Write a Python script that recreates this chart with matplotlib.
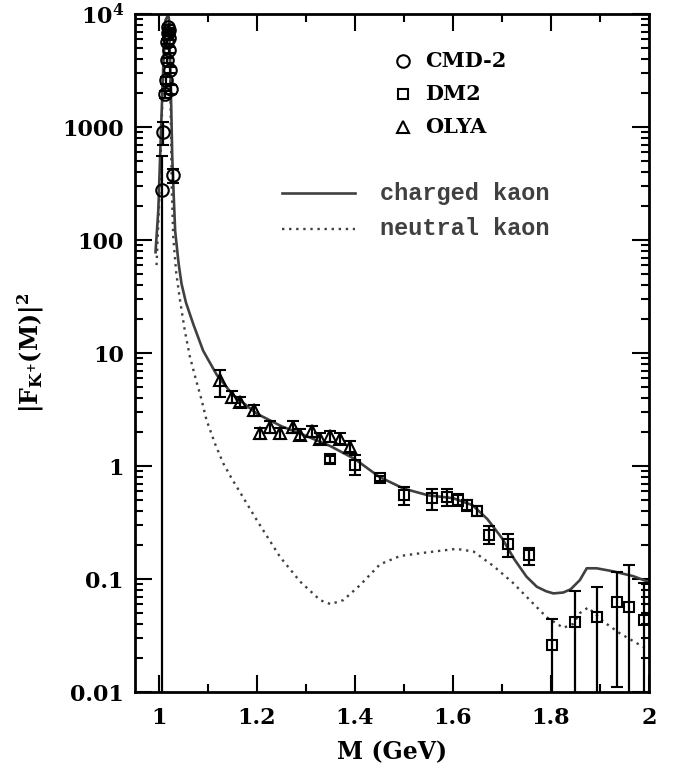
import matplotlib
matplotlib.use("Agg")
import matplotlib.pyplot as plt
import numpy as np
from matplotlib.ticker import FixedLocator, FixedFormatter, NullFormatter, MultipleLocator

# ---------------- data ----------------
# CMD-2 (circles)
cmd_m  = [1.006, 1.009, 1.0125, 1.014, 1.0155, 1.017, 1.018, 1.019, 1.020, 1.0205, 1.021, 1.022, 1.0235, 1.028]
cmd_v  = [277, 910, 1950, 2600, 3900, 5700, 6800, 7700, 7200, 6200, 4800, 3200, 2150, 375]
cmd_lo = [0.003, 690, 1800, 2400, 3700, 5400, 6500, 7400, 6900, 5900, 4500, 3000, 1950, 317]
cmd_hi = [553, 1100, 2100, 2800, 4100, 6000, 7100, 8000, 7500, 6500, 5100, 3400, 2350, 424]

# DM2 (squares)
dm2_m  = [1.349, 1.400, 1.451, 1.499, 1.557, 1.587, 1.611, 1.629, 1.650, 1.674, 1.713, 1.755,
          1.803, 1.849, 1.894, 1.935, 1.959, 1.990]
dm2_v  = [1.15, 1.02, 0.78, 0.55, 0.52, 0.53, 0.50, 0.45, 0.40, 0.245, 0.204, 0.163,
          0.026, 0.042, 0.0465, 0.063, 0.057, 0.0434]
dm2_lo = [1.07, 0.83, 0.74, 0.45, 0.41, 0.44, 0.44, 0.40, 0.36, 0.205, 0.158, 0.133,
          0.001, 0.001, 0.001, 0.011, 0.001, 0.001]
dm2_hi = [1.23, 1.24, 0.82, 0.65, 0.63, 0.62, 0.56, 0.50, 0.44, 0.295, 0.250, 0.190,
          0.044, 0.079, 0.0855, 0.115, 0.133, 0.092]

# OLYA (triangles)
olya_m  = [1.1245, 1.148, 1.165, 1.193, 1.206, 1.227, 1.247, 1.274, 1.288, 1.312, 1.329, 1.349, 1.369, 1.390]
olya_v  = [5.8, 4.1, 3.7, 3.13, 1.95, 2.23, 1.95, 2.23, 1.90, 2.03, 1.75, 1.83, 1.75, 1.48]
olya_lo = [4.1, 3.6, 3.3, 2.80, 1.75, 1.98, 1.75, 1.98, 1.70, 1.82, 1.57, 1.64, 1.57, 1.32]
olya_hi = [7.1, 4.6, 4.1, 3.50, 2.18, 2.50, 2.18, 2.50, 2.12, 2.27, 1.95, 2.04, 1.95, 1.66]

# charged kaon model curve
ch_m = [0.9929, 0.9986, 1.0041, 1.0092, 1.0133, 1.0170, 1.0195, 1.0204, 1.0225, 1.025, 1.027,
        1.030, 1.033, 1.040, 1.046, 1.055, 1.070, 1.090, 1.118, 1.150, 1.200, 1.250, 1.300,
        1.350, 1.400, 1.450, 1.500, 1.550, 1.600, 1.640, 1.670, 1.700, 1.725, 1.750, 1.771,
        1.790, 1.805, 1.825, 1.840, 1.859, 1.873, 1.893, 1.927, 1.968, 2.000]
ch_v = [78, 184, 940, 3920, 8850, 9500, 9500, 8850, 4000, 1500, 550,
        250, 120, 62, 41, 28, 18, 10.5, 6.4, 4.3, 2.9, 2.25, 1.85,
        1.5, 1.15, 0.80, 0.63, 0.55, 0.52, 0.45, 0.34, 0.23, 0.15, 0.105, 0.0855,
        0.078, 0.0746, 0.076, 0.081, 0.098, 0.1245, 0.1245, 0.117, 0.106, 0.094]

# neutral kaon model curve
nt_m = [0.9950, 1.0000, 1.0050, 1.0090, 1.0130, 1.0170, 1.0195, 1.0210, 1.0225, 1.024, 1.026,
        1.029, 1.035, 1.043, 1.053, 1.063, 1.075, 1.087, 1.097, 1.115, 1.131, 1.148, 1.165,
        1.200, 1.247, 1.288, 1.329, 1.350, 1.376, 1.410, 1.451, 1.492, 1.546, 1.607, 1.642,
        1.683, 1.723, 1.757, 1.791, 1.825, 1.845, 1.859, 1.876, 1.907, 1.941, 1.982, 2.000]
nt_v = [60, 200, 900, 3500, 8000, 9300, 9300, 8000, 3500, 1200, 300,
        107, 52, 29, 15.5, 9.3, 5.9, 3.84, 2.55, 1.55, 1.06, 0.78, 0.59,
        0.33, 0.157, 0.095, 0.065, 0.060, 0.065, 0.088, 0.135, 0.160, 0.172, 0.185, 0.175,
        0.130, 0.092, 0.065, 0.046, 0.037, 0.040, 0.050, 0.056, 0.042, 0.033, 0.026, 0.0236]

xticks = [1.0, 1.2, 1.4, 1.6, 1.8, 2.0]
xticklabels = ["1", "1.2", "1.4", "1.6", "1.8", "2"]
yticks = [0.01, 0.1, 1, 10, 100, 1000, 1e4]
yticklabels = ["0.01", "0.1", "1", "10", "100", "1000", "10$^{\\mathbf{4}}$"]

legend_data = ["CMD-2", "DM2", "OLYA"]
legend_curves = ["charged kaon", "neutral kaon"]

# ---------------- plot ----------------
plt.rcParams['mathtext.fontset'] = 'custom'
plt.rcParams['mathtext.rm'] = 'DejaVu Serif:bold'
plt.rcParams['mathtext.bf'] = 'DejaVu Serif:bold'
plt.rcParams['mathtext.it'] = 'DejaVu Serif:bold'

fig = plt.figure(figsize=(6.78, 7.76), dpi=100)
ax = fig.add_axes([0.1991, 0.1082, 0.7581, 0.8737])
ax.set_yscale('log')
ax.set_xlim(0.951, 2.0)
ax.set_ylim(0.01, 1e4)

curve_col = '#404040'
ax.plot(ch_m, ch_v, color=curve_col, lw=1.9, solid_joinstyle='round', zorder=2)
ax.plot(nt_m, nt_v, color=curve_col, lw=1.7, linestyle=(0, (1, 2)), zorder=2)

def eb(m, v, lo, hi, marker, ms):
    m = np.array(m); v = np.array(v)
    yerr = [v - np.array(lo), np.array(hi) - v]
    ax.errorbar(m, v, yerr=yerr, fmt=marker, ms=ms, mfc='none', mec='black', mew=1.5,
                ecolor='black', elinewidth=1.6, capsize=4.5, capthick=1.6, zorder=3)

eb(cmd_m, cmd_v, cmd_lo, cmd_hi, 'o', 9)
eb(dm2_m, dm2_v, dm2_lo, dm2_hi, 's', 7)
eb(olya_m, olya_v, olya_lo, olya_hi, '^', 9)

# axes styling
for s in ax.spines.values():
    s.set_linewidth(2.0)
ax.xaxis.set_major_locator(FixedLocator(xticks))
ax.xaxis.set_major_formatter(FixedFormatter(xticklabels))
ax.xaxis.set_minor_locator(MultipleLocator(0.1))
ax.yaxis.set_major_locator(FixedLocator(yticks))
ax.yaxis.set_major_formatter(FixedFormatter(yticklabels))
ax.yaxis.set_minor_formatter(NullFormatter())
ax.tick_params(which='both', direction='in', top=True, right=True, width=1.5)
ax.tick_params(which='major', length=12)
ax.tick_params(which='minor', length=6)
for lab in ax.get_xticklabels() + ax.get_yticklabels():
    lab.set_fontfamily('DejaVu Serif')
    lab.set_fontweight('bold')
    lab.set_fontsize(16)
ax.tick_params(axis='y', pad=8)
ax.tick_params(axis='x', pad=11)

ax.set_xlabel("M (GeV)", fontsize=17, family='DejaVu Serif', weight='bold', labelpad=8)
ax.set_ylabel(r"$\mathbf{|F_{K^{+}}(M)|^{2}}$", fontsize=17, labelpad=12)

# legend (manual)
T = ax.transAxes
mk = ['o', 's', '^']
mks = [9, 7, 9]
ys = [0.931, 0.882, 0.833]
for lab, m_, s_, y_ in zip(legend_data, mk, mks, ys):
    ax.plot([0.521], [y_], marker=m_, ms=s_, mfc='none', mec='black', mew=1.5,
            transform=T, clip_on=False)
    ax.text(0.565, y_, lab, transform=T, va='center', ha='left', fontsize=15,
            family='DejaVu Serif', weight='bold')
ax.plot([0.286, 0.428], [0.736, 0.736], color=curve_col, lw=1.9, transform=T)
ax.plot([0.286, 0.428], [0.683, 0.683], color=curve_col, lw=1.7, linestyle=(0, (1, 2)), transform=T)
ax.text(0.477, 0.736, legend_curves[0], transform=T, va='center', ha='left', fontsize=17,
        family='Liberation Mono', weight='bold', color='#404040')
ax.text(0.477, 0.683, legend_curves[1], transform=T, va='center', ha='left', fontsize=17,
        family='Liberation Mono', weight='bold', color='#404040')

fig.savefig("out.png", dpi=100)
